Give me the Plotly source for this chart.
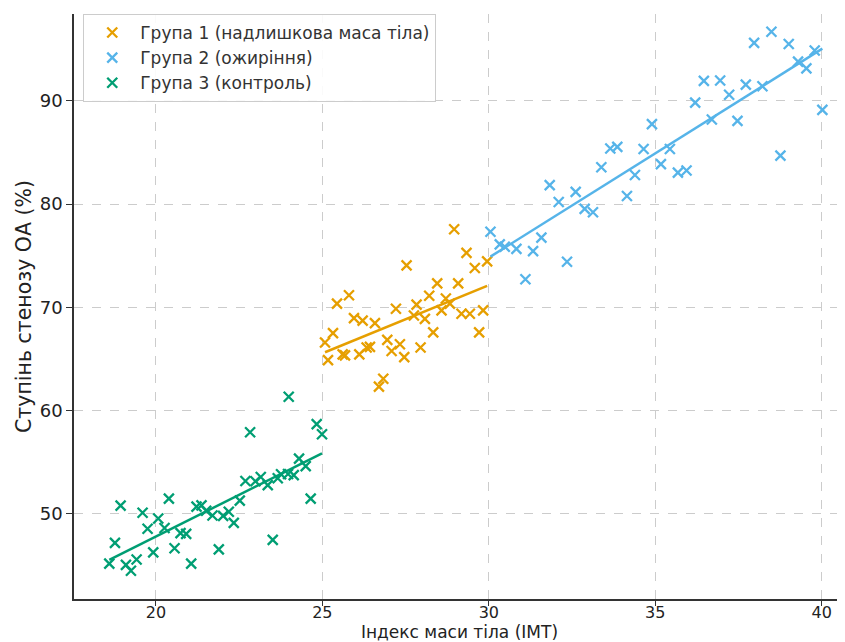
import numpy as np
import plotly.graph_objects as go

# Group 3 (control)
g3_x = [18.60, 18.77, 18.94, 19.10, 19.25, 19.42, 19.60, 19.75, 19.92, 20.07, 20.26, 20.39, 20.56, 20.74,
        20.91, 21.06, 21.22, 21.37, 21.51, 21.70, 21.89, 22.02, 22.19, 22.34, 22.52, 22.69, 22.83, 22.99,
        23.15, 23.36, 23.51, 23.66, 23.76, 23.97, 23.99, 24.14, 24.30, 24.50, 24.65, 24.83, 24.99]
g3_y = [45.18, 47.18, 50.79, 45.05, 44.49, 45.58, 50.10, 48.55, 46.26, 49.54, 48.62, 51.47, 46.66, 48.13,
        48.06, 45.18, 50.69, 50.82, 50.29, 49.83, 46.56, 49.80, 50.20, 49.12, 51.28, 53.18, 57.90, 53.15,
        53.57, 52.78, 47.47, 53.44, 53.83, 53.86, 61.34, 53.74, 55.34, 54.62, 51.47, 58.68, 57.70]

# Group 1 (overweight)
g1_x = [25.08, 25.17, 25.32, 25.44, 25.61, 25.68, 25.80, 25.95, 26.11, 26.21, 26.33, 26.43, 26.58, 26.70,
        26.83, 26.95, 27.08, 27.21, 27.33, 27.46, 27.53, 27.75, 27.83, 27.95, 28.08, 28.21, 28.33, 28.45,
        28.58, 28.71, 28.83, 28.96, 29.08, 29.18, 29.33, 29.43, 29.58, 29.71, 29.83, 29.95]
g1_y = [66.59, 64.88, 67.50, 70.35, 65.44, 65.34, 71.17, 68.95, 65.44, 68.71, 66.10, 66.16, 68.46, 62.32,
        63.08, 66.84, 65.76, 69.86, 66.42, 65.17, 74.06, 69.20, 70.26, 66.10, 68.88, 71.11, 67.57, 72.32,
        69.70, 70.85, 70.35, 77.56, 72.32, 69.37, 75.27, 69.37, 73.80, 67.57, 69.70, 74.45]

# Group 2 (obesity)
g2_x = [30.05, 30.33, 30.48, 30.83, 31.10, 31.33, 31.58, 31.83, 32.10, 32.35, 32.61, 32.88, 33.13, 33.38,
        33.65, 33.86, 34.15, 34.39, 34.65, 34.90, 35.17, 35.44, 35.68, 35.94, 36.20, 36.46, 36.70, 36.95,
        37.22, 37.47, 37.72, 37.97, 38.22, 38.49, 38.76, 39.01, 39.29, 39.54, 39.79, 40.02]
g2_y = [77.31, 76.09, 75.86, 75.66, 72.71, 75.44, 76.75, 81.83, 80.19, 74.41, 81.17, 79.53, 79.20, 83.56,
        85.37, 85.53, 80.78, 82.81, 85.33, 87.73, 83.86, 85.33, 83.04, 83.24, 89.82, 91.92, 88.18, 91.96,
        90.58, 88.05, 91.56, 95.60, 91.40, 96.68, 84.68, 95.50, 93.79, 93.14, 94.87, 89.11]

names = ["Група 1 (надлишкова маса тіла)", "Група 2 (ожиріння)", "Група 3 (контроль)"]
colors = ["#E69F00", "#56B4E9", "#009E73"]
groups = [(g1_x, g1_y), (g2_x, g2_y), (g3_x, g3_y)]

fig = go.Figure()
for (gx, gy), name, col in zip(groups, names, colors):
    fig.add_trace(go.Scatter(
        x=gx, y=gy, mode="markers", name=name,
        marker=dict(symbol="x-thin", size=10, color=col, line=dict(width=2.3, color=col)),
    ))
for (gx, gy), col in zip(groups, colors):
    k, b = np.polyfit(gx, gy, 1)
    xs = np.array([min(gx), max(gx)])
    fig.add_trace(go.Scatter(x=xs, y=k * xs + b, mode="lines", showlegend=False,
                             line=dict(color=col, width=2.5), hoverinfo="skip"))

axis_common = dict(
    showgrid=True, gridcolor="#cccccc", griddash="dash", gridwidth=1,
    showline=True, linecolor="#333333", linewidth=1.5, mirror=False,
    ticks="outside", tickcolor="#333333", tickwidth=1.2,
    zeroline=False, automargin=False,
)

# page body has an 8px default margin: size the figure so the plot area lands where the reference has it
fig.update_layout(
    width=837, height=634,
    margin=dict(l=66, r=0, t=6, b=43),
    paper_bgcolor="white", plot_bgcolor="white",
    font=dict(family="DejaVu Sans", color="#222222"),
    xaxis=dict(range=[17.54, 40.7], tickvals=[20, 25, 30, 35, 40], ticklen=5,
               tickfont=dict(size=16, color="#222222"), ticklabelstandoff=-7,
               title=dict(text="Індекс маси тіла (IMT)", font=dict(size=17), standoff=3),
               **axis_common),
    yaxis=dict(range=[41.75, 98.4], tickvals=[50, 60, 70, 80, 90], ticklen=6,
               tickfont=dict(size=18, color="#222222"),
               title=dict(text="Ступінь стенозу ОА (%)", font=dict(size=20.5), standoff=3),
               **axis_common),
    legend=dict(x=0.012, y=1.0, xanchor="left", yanchor="top",
                bgcolor="rgba(255,255,255,0.9)", bordercolor="#cccccc", borderwidth=1,
                font=dict(size=17, color="#333333"), tracegroupgap=0, itemwidth=46),
)

fig.write_html("out.html")
